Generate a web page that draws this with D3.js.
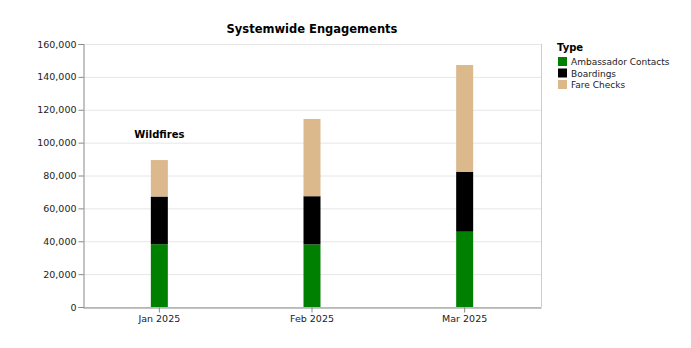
<!DOCTYPE html>
<html><head><meta charset="utf-8">
<script src="https://cdn.jsdelivr.net/npm/d3@7"></script>
<style>body{margin:0;background:#fff}svg{font-family:"DejaVu Sans",sans-serif}</style>
</head><body><svg id="c" width="691" height="348"></svg>
<script>
const categories = ["Jan 2025", "Feb 2025", "Mar 2025"];
const types = ["Ambassador Contacts", "Boardings", "Fare Checks"];
const ambassadorContacts = [38200, 38100, 45800];
const boardings = [29000, 29300, 36500];
const fareChecks = [22200, 47000, 64900];
const colors = ["#008000", "#000000", "#dbb98c"];
const yTicks = [0, 20000, 40000, 60000, 80000, 100000, 120000, 140000, 160000];
const annotations = [{cat: "Jan 2025", value: 105000, text: "Wildfires"}];

const svg = d3.select("#c");
const m = {l: 83, r: 541, t: 44, b: 307};
const x = d3.scaleBand().domain(categories).range([m.l, m.r]);
const y = d3.scaleLinear().domain([0, 160000]).range([m.b, m.t]);
const barW = 17;

// gridlines
svg.append("g").selectAll("line").data(yTicks).join("line")
  .attr("x1", m.l).attr("x2", m.r).attr("y1", d => y(d) + 0.5).attr("y2", d => y(d) + 0.5)
  .attr("stroke", "#e6e6e6");
// right frame
svg.append("line").attr("x1", m.r + 0.5).attr("x2", m.r + 0.5).attr("y1", m.t).attr("y2", m.b)
  .attr("stroke", "#ccc");

const rows = categories.map((c, i) => ({cat: c, "Ambassador Contacts": ambassadorContacts[i], "Boardings": boardings[i], "Fare Checks": fareChecks[i]}));
const stack = d3.stack().keys(types)(rows);
svg.append("g").selectAll("g").data(stack).join("g").attr("fill", (d, i) => colors[i])
  .selectAll("rect").data(d => d).join("rect")
  .attr("x", d => x(d.data.cat) + x.bandwidth() / 2 - barW / 2)
  .attr("width", barW)
  .attr("y", d => y(d[1]))
  .attr("height", d => y(d[0]) - y(d[1]));

// axes
const ya = svg.append("g").attr("transform", `translate(${m.l + 0.5},0)`)
  .call(d3.axisLeft(y).tickValues(yTicks).tickFormat(d3.format(",")).tickSize(5).tickPadding(2));
ya.select(".domain").attr("stroke", "#888");
ya.selectAll(".tick line").attr("stroke", "#888");
ya.selectAll("text").attr("font-size", 9.5).attr("fill", "#222").attr("font-family", "DejaVu Sans");

const xa = svg.append("g").attr("transform", `translate(0,${m.b + 0.5})`)
  .call(d3.axisBottom(x).tickSize(5).tickPadding(3).tickSizeOuter(0));
xa.select(".domain").attr("stroke", "#888");
xa.selectAll(".tick line").attr("stroke", "#888");
xa.selectAll("text").attr("font-size", 9.5).attr("fill", "#222").attr("font-family", "DejaVu Sans");

// title
svg.append("text").attr("x", (m.l + m.r) / 2).attr("y", 33).attr("text-anchor", "middle")
  .attr("font-weight", "bold").attr("font-size", 11.5).text("Systemwide Engagements");

// annotation
svg.selectAll(".ann").data(annotations).join("text")
  .attr("x", d => x(d.cat) + x.bandwidth() / 2).attr("y", d => y(d.value) + 4)
  .attr("text-anchor", "middle").attr("font-weight", "bold").attr("font-size", 10)
  .text(d => d.text);

// legend
const lg = svg.append("g").attr("transform", "translate(557,0)");
lg.append("text").attr("x", 0).attr("y", 51).attr("font-weight", "bold").attr("font-size", 10).text("Type");
const li = lg.selectAll(".li").data(types).join("g").attr("transform", (d, i) => `translate(0,${57 + i * 11.5})`);
li.append("rect").attr("x", 1).attr("y", 0).attr("width", 9).attr("height", 9).attr("fill", (d, i) => colors[i]);
li.append("text").attr("x", 14).attr("y", 8).attr("font-size", 9).attr("fill", "#222").text(d => d);
</script></body></html>
